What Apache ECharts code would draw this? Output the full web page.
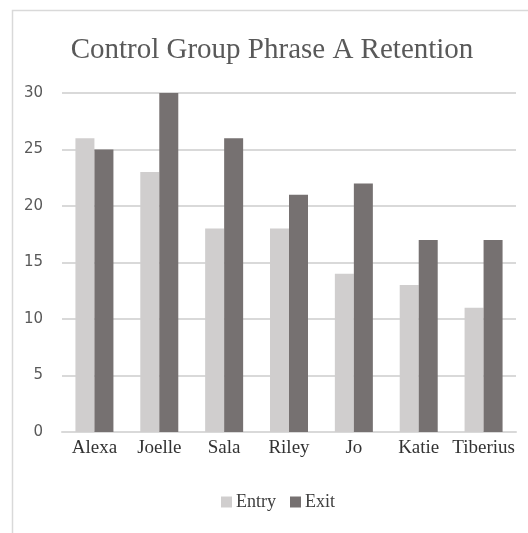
<!DOCTYPE html>
<html>
<head>
<meta charset="utf-8">
<script src="https://cdn.jsdelivr.net/npm/echarts@6/dist/echarts.min.js"></script>
<style>
  html, body { margin: 0; padding: 0; background: #fff; }
  #chart { width: 528px; height: 533px; }
</style>
</head>
<body>
<div id="chart"></div>
<script>
const names = ['Alexa', 'Joelle', 'Sala', 'Riley', 'Jo', 'Katie', 'Tiberius'];
const entry = [26, 23, 18, 18, 14, 13, 11];
const exit = [25, 30, 26, 21, 22, 17, 17];
const yTicks = [0, 5, 10, 15, 20, 25, 30];

const chart = echarts.init(document.getElementById('chart'));

chart.setOption({
  animation: false,
  graphic: [{
    type: 'rect',
    left: 10,
    top: 8,
    shape: { width: 600, height: 600 },
    style: { fill: 'none', stroke: '#d9d9d9', lineWidth: 1.5 },
    silent: true
  }],
  title: {
    text: 'Control Group Phrase A Retention',
    left: 267,
    textAlign: 'center',
    top: 31,
    textStyle: {
      fontFamily: 'Liberation Serif',
      fontSize: 29,
      fontWeight: 'normal',
      color: '#595959'
    }
  },
  legend: {
    left: 216,
    top: 488,
    itemWidth: 11,
    itemHeight: 11,
    itemGap: 14,
    icon: 'rect',
    textStyle: {
      fontFamily: 'Liberation Serif',
      fontSize: 18,
      color: '#404040',
      padding: [0, 0, 0, -1]
    },
    data: ['Entry', 'Exit']
  },
  grid: {
    left: 62,
    right: 12,
    top: 93,
    bottom: 101
  },
  xAxis: {
    type: 'category',
    data: names,
    axisLine: { lineStyle: { color: '#d9d9d9', width: 2 } },
    axisTick: { show: false },
    axisLabel: {
      margin: 7,
      fontFamily: 'Liberation Serif',
      fontSize: 19,
      color: '#333333',
      interval: 0
    }
  },
  yAxis: {
    type: 'value',
    min: yTicks[0],
    max: yTicks[yTicks.length - 1],
    interval: 5,
    axisLine: { show: false },
    axisTick: { show: false },
    axisLabel: {
      margin: 19,
      fontFamily: 'DejaVu Sans',
      fontSize: 15,
      color: '#595959'
    },
    splitLine: { lineStyle: { color: '#d9d9d9', width: 2 } }
  },
  series: [
    {
      name: 'Entry',
      type: 'bar',
      data: entry,
      barWidth: 19,
      barGap: '0%',
      itemStyle: { color: '#d0cece' }
    },
    {
      name: 'Exit',
      type: 'bar',
      data: exit,
      barWidth: 19,
      barGap: '0%',
      itemStyle: { color: '#767171' }
    }
  ]
});
</script>
</body>
</html>
